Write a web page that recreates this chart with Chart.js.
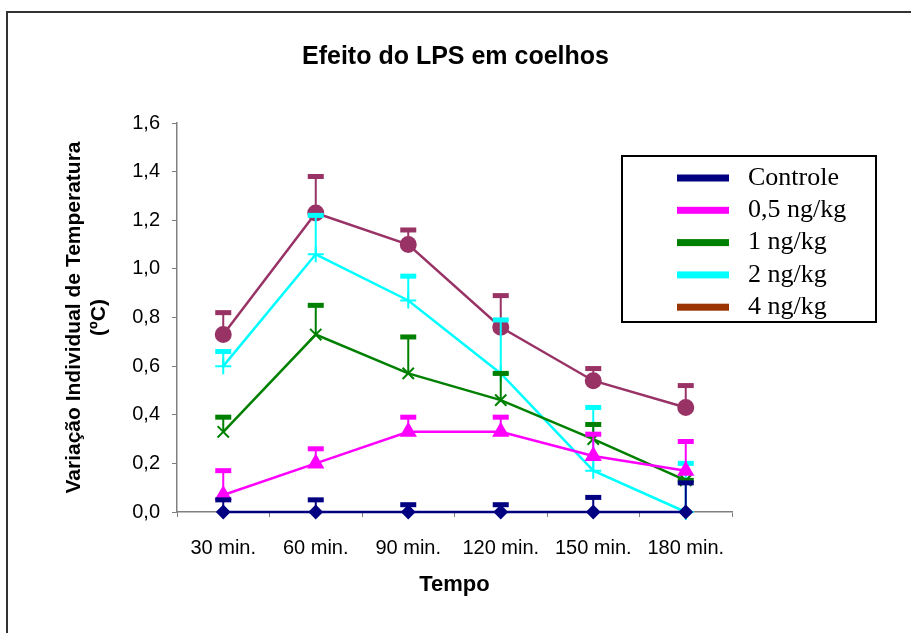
<!DOCTYPE html>
<html lang="pt">

<head>
    <meta charset="UTF-8" />
    <title>Efeito do LPS em coelhos</title>
    <script src="https://cdn.jsdelivr.net/npm/chart.js@4.4.1/dist/chart.umd.min.js"></script>
    <style>
        html, body { margin: 0; padding: 0; background: #fff; }
        #wrap { width: 911px; height: 633px; }
    </style>
</head>

<body>
    <div id="wrap">
        <canvas id="myChart" width="911" height="633"></canvas>
    </div>
    <script>
        // categories and values
        let labels = ['30 min.', '60 min.', '90 min.', '120 min.', '150 min.', '180 min.']
        let seriesNames = ['Controle', '0,5 ng/kg', '1 ng/kg', '2 ng/kg', '4 ng/kg']

        let controle = [0, 0, 0, 0, 0, 0]
        let dose05 = [0.07, 0.20, 0.33, 0.33, 0.23, 0.17]
        let dose1 = [0.33, 0.73, 0.57, 0.46, 0.30, 0.13]
        let dose2 = [0.60, 1.06, 0.87, 0.57, 0.17, 0.00]
        let dose4 = [0.73, 1.23, 1.10, 0.76, 0.54, 0.43]

        // upper error bars (positive deviation only)
        let errControle = [0.05, 0.05, 0.03, 0.03, 0.06, 0.12]
        let err05 = [0.10, 0.06, 0.06, 0.06, 0.09, 0.12]
        let err1 = [0.06, 0.12, 0.15, 0.11, 0.06, 0.00]
        let err2 = [0.06, 0.16, 0.10, 0.22, 0.26, 0.20]
        let err4 = [0.09, 0.15, 0.06, 0.13, 0.05, 0.09]

        let legendColors = ['#000080', '#FF00FF', '#008000', '#00FFFF', '#993300']

        const font = 'Liberation Sans, Arial, sans-serif'

        // frame round the whole chart (only top and left edges show)
        const framePlugin = {
            id: 'frame',
            beforeDraw(chart) {
                const ctx = chart.ctx
                ctx.save()
                ctx.strokeStyle = '#333'
                ctx.lineWidth = 2
                ctx.beginPath()
                ctx.moveTo(7, 640)
                ctx.lineTo(7, 12)
                ctx.lineTo(920, 12)
                ctx.stroke()
                ctx.restore()
            }
        }

        // draws the "T" error bars right after each series
        const errorBarPlugin = {
            id: 'errorBars',
            afterDatasetDraw(chart, args) {
                const ds = chart.data.datasets[args.index]
                if (!ds.errors) return
                const ctx = chart.ctx
                const x = chart.scales.x
                const y = chart.scales.y
                ctx.save()
                ctx.strokeStyle = ds.borderColor
                ctx.fillStyle = ds.borderColor
                ctx.lineWidth = 2
                ds.data.forEach((v, i) => {
                    const px = x.getPixelForValue(i)
                    const y0 = y.getPixelForValue(v)
                    const y1 = y.getPixelForValue(v + ds.errors[i])
                    ctx.beginPath()
                    ctx.moveTo(px, y0)
                    ctx.lineTo(px, y1)
                    ctx.stroke()
                    ctx.fillRect(px - 8, y1 - 2.5, 16, 5)
                })
                ctx.restore()
            }
        }

        const boxLegendPlugin = {
            id: 'boxLegend',
            afterDraw(chart) {
                const ctx = chart.ctx
                ctx.save()
                ctx.strokeStyle = '#000'
                ctx.lineWidth = 2
                ctx.strokeRect(622, 156, 254, 166)
                ctx.font = '26px "Liberation Serif", "Times New Roman", serif'
                ctx.textBaseline = 'middle'
                ctx.fillStyle = '#000'
                seriesNames.forEach((name, i) => {
                    const yy = 178 + i * 32.3
                    ctx.fillStyle = legendColors[i]
                    ctx.fillRect(677, yy - 3.5, 52, 7)
                    ctx.fillStyle = '#000'
                    ctx.fillText(name, 748, yy)
                })
                ctx.restore()
            }
        }

        function series(label, data, errors, color, style, radius, filled) {
            return {
                label: label,
                data: data,
                errors: errors,
                borderColor: color,
                backgroundColor: color,
                pointBackgroundColor: filled ? color : 'transparent',
                pointBorderColor: color,
                pointStyle: style,
                pointRadius: radius,
                pointBorderWidth: 2,
                borderWidth: 2.5,
                tension: 0,
                fill: false,
                clip: false
            }
        }

        const ctx = document.getElementById('myChart').getContext('2d')
        const chart = new Chart(ctx, {
            type: 'line',
            data: {
                labels: labels,
                datasets: [
                    series(seriesNames[0], controle, errControle, '#000080', 'rectRot', 6, true),
                    series(seriesNames[1], dose05, err05, '#FF00FF', 'triangle', 8, true),
                    series(seriesNames[2], dose1, err1, '#008000', 'crossRot', 8, false),
                    series(seriesNames[3], dose2, err2, '#00FFFF', 'cross', 8, false),
                    series(seriesNames[4], dose4, err4, '#993366', 'circle', 7.5, true)
                ]
            },
            options: {
                responsive: false,
                animation: false,
                layout: { padding: 0 },
                plugins: {
                    legend: { display: false },
                    tooltip: { enabled: false },
                    title: {
                        display: true,
                        text: 'Efeito do LPS em coelhos',
                        color: '#000',
                        font: { family: font, size: 25, weight: 'bold' },
                        padding: { top: 42, bottom: 51 }
                    }
                },
                scales: {
                    x: {
                        offset: true,
                        afterFit: s => { s.height = 121 },
                        grid: { offset: true, drawOnChartArea: false, tickLength: 5, color: '#808080' },
                        border: { color: '#808080', width: 1.5 },
                        ticks: { color: '#000', padding: 19, maxRotation: 0, font: { family: font, size: 20 } },
                        title: {
                            display: true,
                            text: 'Tempo',
                            color: '#000',
                            font: { family: font, size: 22, weight: 'bold' },
                            padding: { top: 0, bottom: 35 }
                        }
                    },
                    y: {
                        min: 0,
                        max: 1.6,
                        afterFit: s => { s.width = 177 },
                        grid: { drawOnChartArea: false, tickLength: 5, color: '#808080' },
                        border: { color: '#808080', width: 1.5 },
                        ticks: {
                            stepSize: 0.2,
                            color: '#000',
                            padding: 12,
                            font: { family: font, size: 20 },
                            callback: v => v.toFixed(1).replace('.', ',')
                        },
                        title: {
                            display: true,
                            text: ['Variação Individual de Temperatura', '(ºC)'],
                            color: '#000',
                            font: { family: font, size: 21, weight: 'bold', lineHeight: 1.19 },
                            padding: { top: 62 }
                        }
                    },
                    // empty right-hand box that keeps room for the legend
                    yRight: {
                        position: 'right',
                        display: true,
                        afterFit: s => { s.width = 179 },
                        grid: { display: false },
                        border: { display: false },
                        ticks: { display: false }
                    }
                }
            },
            plugins: [framePlugin, errorBarPlugin, boxLegendPlugin]
        })
    </script>
</body>

</html>
